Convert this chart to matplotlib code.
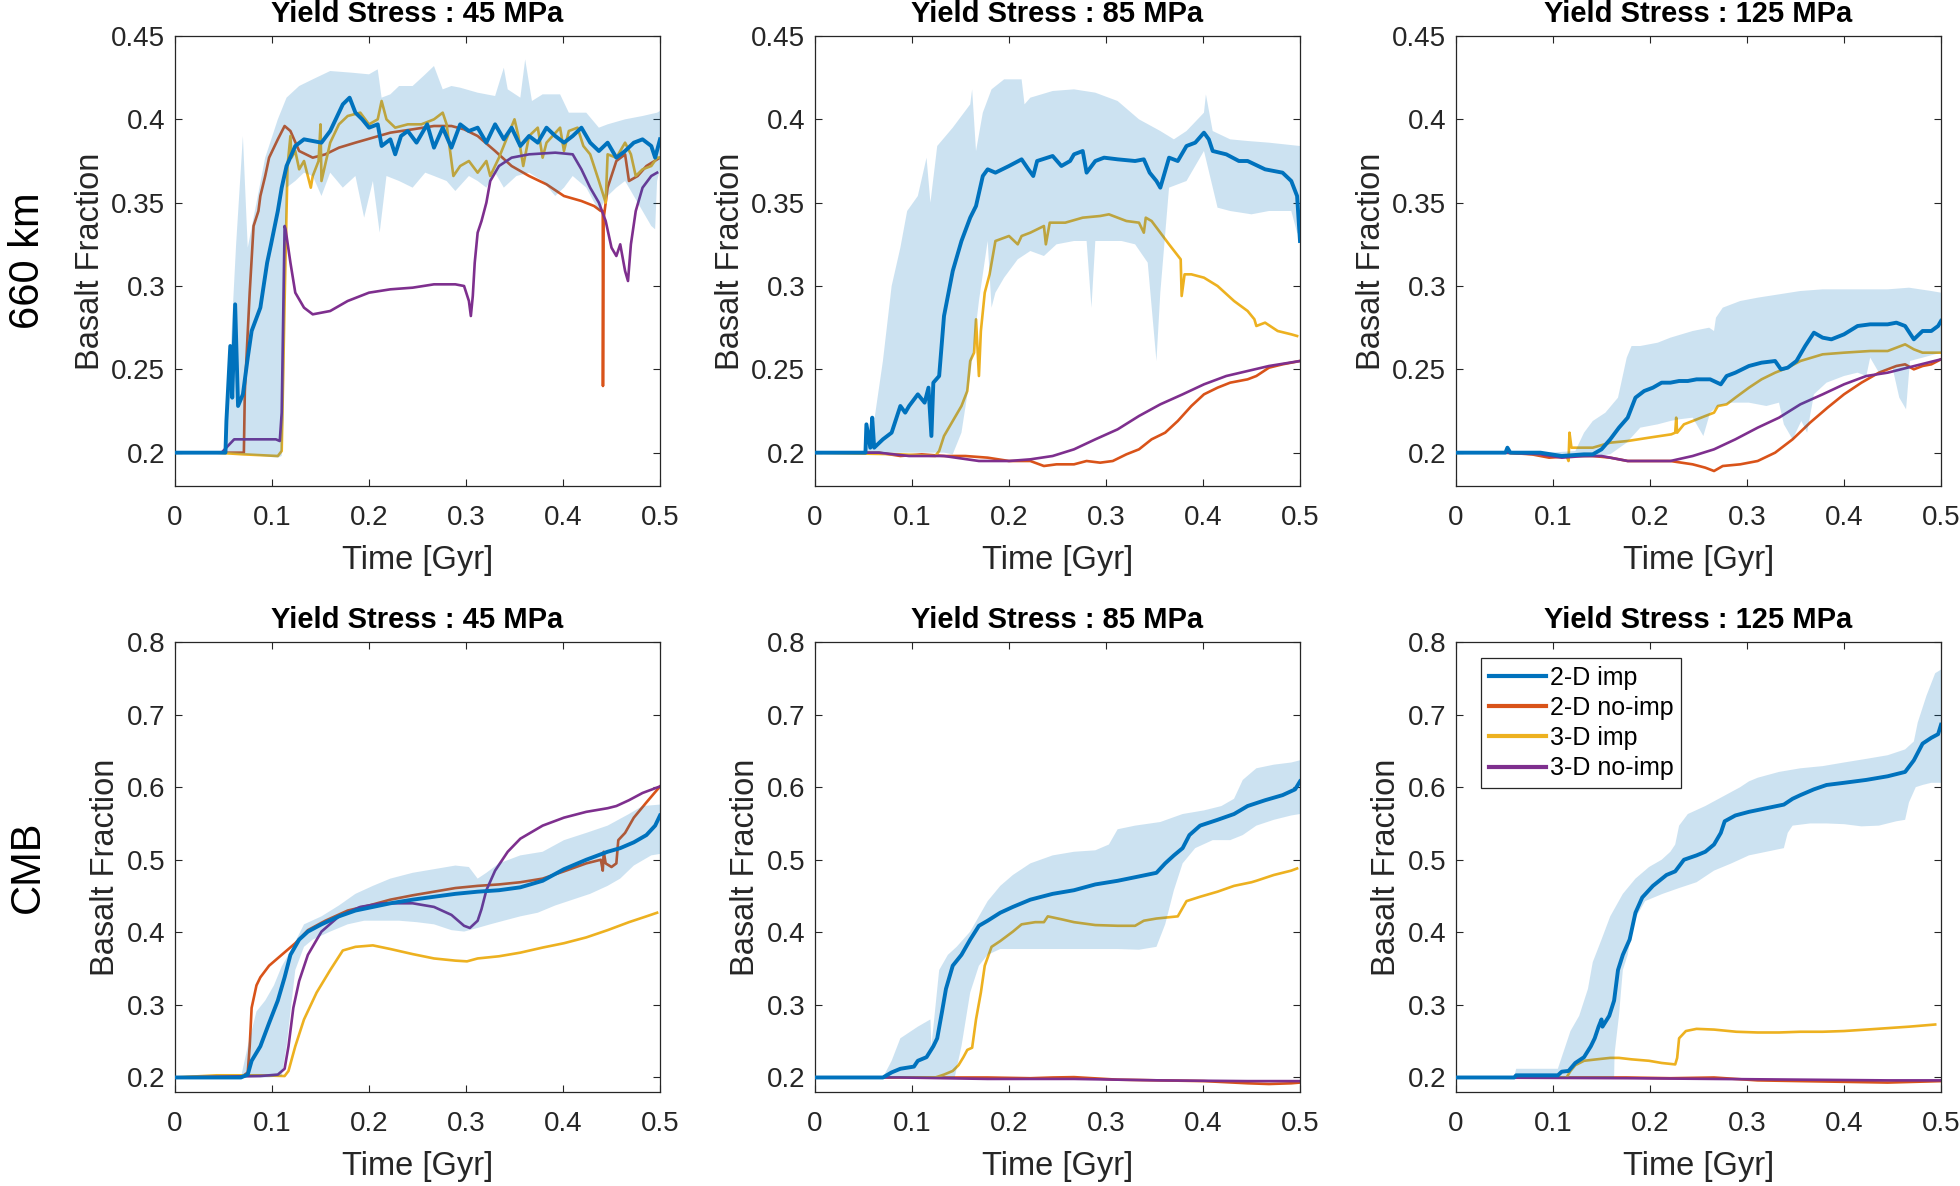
import numpy as np
import matplotlib
matplotlib.use('Agg')
import matplotlib.pyplot as plt
from matplotlib.ticker import FuncFormatter

plt.rcParams['font.family'] = ['Liberation Sans', 'DejaVu Sans']

# ---------------- data: (time [Gyr], basalt fraction) ----------------
# Row 1: 660 km, 45 MPa
A_band_up = [(0.050,0.200),(0.053,0.212),(0.063,0.325),(0.070,0.390),(0.075,0.323),(0.084,0.350),(0.093,0.377),
             (0.106,0.400),(0.115,0.413),(0.128,0.420),(0.142,0.424),(0.160,0.429),(0.182,0.428),(0.200,0.427),
             (0.209,0.430),(0.213,0.413),(0.222,0.415),(0.231,0.420),(0.245,0.420),(0.258,0.427),(0.267,0.432),
             (0.276,0.418),(0.285,0.420),(0.294,0.419),(0.312,0.416),(0.330,0.414),(0.339,0.431),(0.343,0.418),
             (0.356,0.413),(0.361,0.436),(0.368,0.411),(0.379,0.415),(0.397,0.415),(0.406,0.404),(0.424,0.404),
             (0.437,0.395),(0.446,0.397),(0.464,0.400),(0.482,0.402),(0.497,0.404),(0.500,0.405)]
A_band_lo = [(0.050,0.200),(0.088,0.198),(0.106,0.197),(0.110,0.198),(0.112,0.220),(0.115,0.359),(0.124,0.363),
             (0.133,0.368),(0.142,0.366),(0.151,0.354),(0.160,0.368),(0.173,0.359),(0.186,0.366),(0.195,0.341),
             (0.204,0.363),(0.211,0.332),(0.218,0.366),(0.231,0.363),(0.245,0.359),(0.258,0.368),(0.267,0.366),
             (0.280,0.363),(0.289,0.357),(0.303,0.366),(0.312,0.363),(0.321,0.359),(0.330,0.368),(0.339,0.359),
             (0.352,0.366),(0.365,0.368),(0.379,0.363),(0.392,0.354),(0.401,0.359),(0.410,0.366),(0.424,0.359),
             (0.437,0.345),(0.446,0.354),(0.455,0.359),(0.464,0.363),(0.473,0.354),(0.482,0.345),(0.491,0.336),
             (0.495,0.334),(0.497,0.363),(0.500,0.370)]
A_2d_imp = [(0,0.2),(0.052,0.2),(0.053,0.219),(0.057,0.264),(0.059,0.233),(0.062,0.289),(0.065,0.228),(0.070,0.235),
            (0.075,0.257),(0.079,0.273),(0.088,0.287),(0.095,0.314),(0.099,0.325),(0.106,0.345),(0.110,0.359),
            (0.115,0.372),(0.124,0.384),(0.133,0.388),(0.142,0.387),(0.151,0.386),(0.160,0.393),(0.173,0.409),
            (0.180,0.413),(0.186,0.404),(0.193,0.400),(0.200,0.395),(0.209,0.397),(0.213,0.384),(0.222,0.388),
            (0.227,0.379),(0.233,0.390),(0.240,0.393),(0.249,0.386),(0.260,0.397),(0.267,0.383),(0.276,0.395),
            (0.285,0.383),(0.294,0.397),(0.303,0.393),(0.312,0.395),(0.321,0.386),(0.330,0.397),(0.339,0.388),
            (0.347,0.395),(0.356,0.384),(0.365,0.390),(0.374,0.386),(0.383,0.395),(0.392,0.390),(0.401,0.386),
            (0.410,0.390),(0.419,0.395),(0.428,0.386),(0.437,0.381),(0.446,0.386),(0.455,0.377),(0.464,0.381),
            (0.473,0.386),(0.482,0.388),(0.491,0.384),(0.495,0.377),(0.500,0.388)]
A_2d_noimp = [(0,0.2),(0.071,0.2),(0.072,0.237),(0.077,0.296),(0.081,0.336),(0.086,0.345),(0.088,0.354),(0.093,0.366),
              (0.097,0.377),(0.106,0.388),(0.113,0.396),(0.119,0.393),(0.128,0.381),(0.142,0.377),(0.155,0.379),
              (0.169,0.383),(0.186,0.386),(0.204,0.389),(0.222,0.392),(0.245,0.394),(0.267,0.396),(0.285,0.396),
              (0.298,0.394),(0.312,0.390),(0.330,0.381),(0.347,0.372),(0.365,0.366),(0.383,0.361),(0.401,0.354),
              (0.419,0.351),(0.432,0.348),(0.439,0.345),(0.441,0.345),(0.4412,0.240),(0.4418,0.340),(0.446,0.359),
              (0.455,0.375),(0.464,0.379),(0.468,0.363),(0.477,0.366),(0.486,0.372),(0.500,0.377)]
A_3d_imp = [(0,0.2),(0.043,0.2),(0.070,0.199),(0.106,0.198),(0.110,0.201),(0.113,0.291),(0.116,0.372),(0.119,0.390),
            (0.120,0.377),(0.124,0.381),(0.128,0.370),(0.133,0.375),(0.140,0.359),(0.142,0.366),(0.148,0.375),
            (0.150,0.397),(0.151,0.363),(0.160,0.386),(0.169,0.397),(0.178,0.402),(0.191,0.404),(0.200,0.397),
            (0.209,0.400),(0.213,0.411),(0.218,0.400),(0.227,0.395),(0.240,0.397),(0.254,0.397),(0.267,0.400),
            (0.276,0.404),(0.280,0.397),(0.287,0.366),(0.294,0.372),(0.303,0.375),(0.312,0.368),(0.321,0.375),
            (0.325,0.366),(0.334,0.377),(0.343,0.390),(0.350,0.400),(0.354,0.390),(0.359,0.372),(0.365,0.390),
            (0.374,0.395),(0.379,0.377),(0.383,0.386),(0.397,0.395),(0.401,0.381),(0.406,0.393),(0.415,0.395),
            (0.421,0.384),(0.428,0.379),(0.437,0.363),(0.444,0.350),(0.446,0.379),(0.455,0.377),(0.464,0.386),
            (0.470,0.379),(0.475,0.366),(0.482,0.370),(0.491,0.372),(0.497,0.377),(0.500,0.377)]
A_3d_noimp = [(0,0.2),(0.048,0.2),(0.061,0.208),(0.104,0.208),(0.108,0.207),(0.110,0.224),(0.113,0.336),(0.114,0.334),
              (0.119,0.314),(0.124,0.296),(0.133,0.287),(0.142,0.283),(0.160,0.285),(0.178,0.291),(0.200,0.296),
              (0.222,0.298),(0.245,0.299),(0.267,0.301),(0.289,0.301),(0.298,0.300),(0.303,0.291),(0.305,0.282),
              (0.307,0.294),(0.309,0.314),(0.312,0.332),(0.316,0.339),(0.321,0.350),(0.325,0.363),(0.334,0.372),
              (0.347,0.377),(0.365,0.379),(0.392,0.380),(0.410,0.379),(0.419,0.370),(0.428,0.359),(0.437,0.350),
              (0.444,0.339),(0.450,0.323),(0.455,0.318),(0.459,0.325),(0.464,0.309),(0.467,0.303),(0.470,0.325),
              (0.475,0.345),(0.482,0.359),(0.491,0.366),(0.497,0.368)]

# Row 1: 660 km, 85 MPa
B_band_up = [(0.052,0.201),(0.061,0.219),(0.070,0.255),(0.079,0.300),(0.088,0.323),(0.095,0.345),(0.106,0.354),
             (0.115,0.377),(0.119,0.350),(0.126,0.384),(0.142,0.395),(0.160,0.409),(0.162,0.418),(0.166,0.381),
             (0.173,0.404),(0.182,0.418),(0.195,0.424),(0.213,0.424),(0.216,0.409),(0.222,0.413),(0.245,0.417),
             (0.267,0.418),(0.289,0.416),(0.312,0.411),(0.334,0.400),(0.356,0.393),(0.370,0.388),(0.383,0.393),
             (0.401,0.404),(0.403,0.415),(0.410,0.393),(0.428,0.388),(0.446,0.387),(0.468,0.386),(0.500,0.384)]
B_band_lo = [(0.052,0.200),(0.133,0.200),(0.142,0.199),(0.151,0.212),(0.160,0.246),(0.169,0.291),(0.178,0.327),
             (0.182,0.287),(0.186,0.296),(0.195,0.305),(0.209,0.316),(0.222,0.321),(0.236,0.318),(0.249,0.325),
             (0.267,0.327),(0.280,0.327),(0.285,0.287),(0.289,0.327),(0.303,0.327),(0.316,0.327),(0.330,0.325),
             (0.343,0.314),(0.352,0.255),(0.356,0.296),(0.365,0.359),(0.383,0.363),(0.401,0.381),(0.415,0.347),
             (0.428,0.345),(0.450,0.343),(0.468,0.345),(0.491,0.345),(0.497,0.332),(0.500,0.330)]
B_2d_imp = [(0,0.2),(0.052,0.2),(0.053,0.217),(0.057,0.203),(0.059,0.221),(0.061,0.203),(0.070,0.208),(0.079,0.212),
            (0.088,0.228),(0.093,0.224),(0.097,0.228),(0.106,0.235),(0.113,0.230),(0.117,0.239),(0.120,0.210),
            (0.122,0.242),(0.128,0.246),(0.133,0.282),(0.142,0.309),(0.151,0.327),(0.160,0.341),(0.166,0.348),
            (0.173,0.366),(0.178,0.370),(0.186,0.368),(0.200,0.372),(0.213,0.376),(0.220,0.370),(0.225,0.366),
            (0.229,0.375),(0.245,0.378),(0.254,0.372),(0.263,0.375),(0.267,0.379),(0.276,0.381),(0.280,0.368),
            (0.289,0.375),(0.298,0.377),(0.312,0.376),(0.330,0.375),(0.339,0.376),(0.345,0.368),(0.352,0.363),
            (0.356,0.359),(0.365,0.377),(0.374,0.375),(0.383,0.384),(0.392,0.386),(0.401,0.392),(0.406,0.388),
            (0.410,0.381),(0.424,0.379),(0.437,0.375),(0.446,0.375),(0.464,0.370),(0.482,0.368),(0.491,0.363),
            (0.497,0.354),(0.500,0.327)]
B_2d_noimp = [(0,0.2),(0.066,0.2),(0.088,0.198),(0.110,0.199),(0.133,0.198),(0.155,0.198),(0.178,0.197),(0.200,0.195),
              (0.222,0.195),(0.236,0.192),(0.249,0.193),(0.267,0.193),(0.280,0.195),(0.294,0.194),(0.307,0.195),
              (0.321,0.199),(0.334,0.202),(0.347,0.208),(0.361,0.212),(0.374,0.219),(0.388,0.228),(0.401,0.235),
              (0.415,0.239),(0.428,0.242),(0.446,0.244),(0.455,0.246),(0.468,0.251),(0.482,0.253),(0.500,0.255)]
B_3d_imp = [(0,0.2),(0.088,0.199),(0.124,0.198),(0.128,0.201),(0.133,0.210),(0.142,0.219),(0.151,0.228),(0.157,0.237),
            (0.160,0.255),(0.164,0.260),(0.166,0.280),(0.169,0.246),(0.171,0.273),(0.175,0.296),(0.180,0.307),
            (0.186,0.327),(0.200,0.330),(0.209,0.325),(0.213,0.330),(0.222,0.332),(0.236,0.336),(0.238,0.325),
            (0.242,0.338),(0.258,0.338),(0.276,0.341),(0.294,0.342),(0.303,0.343),(0.312,0.341),(0.321,0.339),
            (0.334,0.338),(0.339,0.332),(0.341,0.341),(0.347,0.339),(0.356,0.332),(0.365,0.325),(0.377,0.316),
            (0.378,0.294),(0.381,0.307),(0.388,0.307),(0.401,0.305),(0.415,0.300),(0.432,0.291),(0.446,0.285),
            (0.453,0.280),(0.455,0.276),(0.464,0.278),(0.477,0.273),(0.491,0.271),(0.497,0.270)]
B_3d_noimp = [(0,0.2),(0.066,0.2),(0.097,0.198),(0.133,0.198),(0.169,0.195),(0.200,0.195),(0.222,0.196),(0.245,0.198),
              (0.267,0.202),(0.289,0.208),(0.312,0.214),(0.334,0.222),(0.356,0.229),(0.379,0.235),(0.401,0.241),
              (0.424,0.246),(0.446,0.249),(0.468,0.252),(0.500,0.255)]

# Row 1: 660 km, 125 MPa
C_band_up = [(0.051,0.201),(0.069,0.200),(0.096,0.200),(0.123,0.201),(0.132,0.212),(0.141,0.219),(0.154,0.224),
             (0.167,0.233),(0.176,0.257),(0.181,0.264),(0.190,0.264),(0.208,0.266),(0.221,0.269),(0.244,0.273),
             (0.261,0.275),(0.266,0.273),(0.268,0.281),(0.275,0.287),(0.293,0.291),(0.311,0.293),(0.333,0.295),
             (0.355,0.297),(0.378,0.298),(0.400,0.298),(0.423,0.298),(0.445,0.298),(0.467,0.299),(0.490,0.297),
             (0.500,0.296)]
C_band_lo = [(0.051,0.200),(0.105,0.199),(0.132,0.197),(0.159,0.199),(0.176,0.206),(0.190,0.215),(0.208,0.217),
             (0.221,0.219),(0.230,0.220),(0.244,0.221),(0.255,0.210),(0.262,0.224),(0.270,0.228),(0.284,0.230),
             (0.302,0.230),(0.320,0.228),(0.333,0.230),(0.338,0.217),(0.347,0.208),(0.356,0.219),(0.362,0.212),
             (0.369,0.235),(0.382,0.242),(0.400,0.246),(0.414,0.248),(0.423,0.246),(0.427,0.257),(0.436,0.248),
             (0.450,0.251),(0.457,0.233),(0.464,0.226),(0.468,0.255),(0.481,0.257),(0.500,0.260)]
C_2d_imp = [(0,0.2),(0.051,0.2),(0.053,0.203),(0.056,0.200),(0.087,0.200),(0.109,0.198),(0.132,0.199),(0.141,0.199),
            (0.150,0.202),(0.159,0.208),(0.168,0.215),(0.177,0.221),(0.185,0.233),(0.194,0.237),(0.203,0.239),
            (0.212,0.242),(0.221,0.242),(0.230,0.243),(0.239,0.243),(0.248,0.244),(0.262,0.244),(0.273,0.241),
            (0.279,0.246),(0.288,0.248),(0.302,0.252),(0.315,0.254),(0.329,0.255),(0.335,0.250),(0.342,0.251),
            (0.351,0.255),(0.360,0.264),(0.369,0.272),(0.378,0.269),(0.387,0.268),(0.400,0.271),(0.414,0.276),
            (0.427,0.277),(0.445,0.277),(0.454,0.278),(0.463,0.276),(0.472,0.268),(0.481,0.273),(0.490,0.273),
            (0.497,0.276),(0.500,0.279)]
C_2d_noimp = [(0,0.2),(0.051,0.2),(0.078,0.199),(0.096,0.197),(0.123,0.198),(0.141,0.198),(0.159,0.197),(0.177,0.195),
              (0.199,0.195),(0.221,0.195),(0.244,0.193),(0.257,0.191),(0.266,0.189),(0.275,0.192),(0.293,0.193),
              (0.311,0.195),(0.329,0.200),(0.347,0.208),(0.365,0.218),(0.383,0.227),(0.400,0.235),(0.418,0.242),
              (0.436,0.248),(0.454,0.252),(0.463,0.253),(0.472,0.250),(0.481,0.252),(0.490,0.253),(0.500,0.256)]
C_3d_imp = [(0,0.2),(0.051,0.2),(0.087,0.199),(0.114,0.198),(0.116,0.195),(0.117,0.212),(0.119,0.203),(0.123,0.203),
            (0.141,0.203),(0.159,0.206),(0.177,0.207),(0.199,0.209),(0.222,0.211),(0.226,0.212),(0.227,0.221),
            (0.228,0.212),(0.235,0.217),(0.244,0.219),(0.257,0.222),(0.266,0.224),(0.270,0.228),(0.279,0.229),
            (0.288,0.233),(0.302,0.239),(0.315,0.244),(0.329,0.248),(0.342,0.251),(0.355,0.255),(0.378,0.259),
            (0.400,0.260),(0.427,0.261),(0.445,0.261),(0.454,0.263),(0.463,0.265),(0.472,0.262),(0.481,0.260),
            (0.494,0.260),(0.500,0.260)]
C_3d_noimp = [(0,0.2),(0.051,0.2),(0.087,0.199),(0.109,0.197),(0.132,0.198),(0.150,0.198),(0.177,0.195),(0.199,0.195),
              (0.221,0.195),(0.244,0.198),(0.266,0.202),(0.288,0.208),(0.311,0.215),(0.333,0.221),(0.355,0.229),
              (0.378,0.235),(0.400,0.241),(0.423,0.246),(0.445,0.248),(0.500,0.256)]

# Row 2: CMB, 45 MPa
D_band_up = [(0.068,0.200),(0.075,0.243),(0.084,0.291),(0.093,0.306),(0.102,0.327),(0.110,0.353),(0.119,0.374),
             (0.133,0.411),(0.151,0.422),(0.169,0.437),(0.186,0.453),(0.204,0.464),(0.222,0.474),(0.245,0.482),
             (0.267,0.487),(0.289,0.492),(0.303,0.490),(0.312,0.474),(0.321,0.482),(0.334,0.495),(0.356,0.506),
             (0.379,0.511),(0.401,0.527),(0.424,0.537),(0.446,0.547),(0.468,0.563),(0.482,0.574),(0.500,0.576)]
D_band_lo = [(0.068,0.200),(0.097,0.200),(0.110,0.202),(0.115,0.243),(0.124,0.348),(0.133,0.380),(0.142,0.390),
             (0.160,0.401),(0.178,0.411),(0.195,0.416),(0.213,0.416),(0.231,0.416),(0.249,0.414),(0.267,0.411),
             (0.285,0.403),(0.298,0.401),(0.312,0.406),(0.325,0.411),(0.339,0.416),(0.356,0.422),(0.374,0.427),
             (0.392,0.437),(0.410,0.445),(0.428,0.453),(0.446,0.464),(0.459,0.474),(0.473,0.492),(0.491,0.506),
             (0.500,0.508)]
D_2d_imp = [(0,0.2),(0.068,0.2),(0.075,0.204),(0.079,0.223),(0.088,0.243),(0.097,0.275),(0.106,0.306),(0.113,0.338),
            (0.119,0.369),(0.128,0.390),(0.137,0.401),(0.151,0.411),(0.169,0.422),(0.186,0.430),(0.204,0.435),
            (0.222,0.440),(0.245,0.445),(0.267,0.449),(0.289,0.453),(0.312,0.456),(0.334,0.458),(0.356,0.462),
            (0.379,0.471),(0.401,0.487),(0.424,0.500),(0.446,0.511),(0.459,0.516),(0.473,0.524),(0.486,0.534),
            (0.495,0.547),(0.500,0.561)]
D_2d_noimp = [(0,0.2),(0.070,0.202),(0.075,0.207),(0.077,0.243),(0.079,0.296),(0.084,0.327),(0.088,0.338),(0.097,0.354),
              (0.110,0.369),(0.124,0.385),(0.137,0.403),(0.155,0.416),(0.178,0.430),(0.200,0.437),(0.222,0.445),
              (0.245,0.451),(0.267,0.456),(0.289,0.461),(0.312,0.464),(0.334,0.466),(0.356,0.469),(0.379,0.474),
              (0.401,0.484),(0.424,0.495),(0.439,0.500),(0.441,0.485),(0.442,0.511),(0.444,0.495),(0.450,0.490),
              (0.455,0.495),(0.457,0.527),(0.464,0.537),(0.473,0.558),(0.486,0.579),(0.500,0.601)]
D_3d_imp = [(0,0.2),(0.043,0.203),(0.088,0.203),(0.113,0.202),(0.117,0.209),(0.124,0.243),(0.133,0.280),(0.146,0.317),
            (0.160,0.348),(0.173,0.375),(0.186,0.380),(0.204,0.382),(0.222,0.377),(0.245,0.370),(0.267,0.364),
            (0.289,0.361),(0.301,0.360),(0.312,0.364),(0.334,0.367),(0.356,0.372),(0.379,0.379),(0.401,0.385),
            (0.424,0.393),(0.446,0.403),(0.468,0.414),(0.486,0.422),(0.497,0.427)]
D_3d_noimp = [(0,0.2),(0.088,0.202),(0.106,0.204),(0.113,0.212),(0.117,0.243),(0.122,0.296),(0.128,0.333),(0.137,0.369),
              (0.151,0.401),(0.169,0.422),(0.191,0.435),(0.213,0.440),(0.245,0.440),(0.267,0.435),(0.285,0.424),
              (0.298,0.409),(0.304,0.406),(0.312,0.416),(0.316,0.432),(0.321,0.458),(0.330,0.485),(0.343,0.511),
              (0.356,0.529),(0.379,0.547),(0.401,0.558),(0.424,0.566),(0.446,0.571),(0.455,0.574),(0.468,0.582),
              (0.482,0.592),(0.500,0.601)]

# Row 2: CMB, 85 MPa
E_band_up = [(0.070,0.200),(0.079,0.223),(0.088,0.254),(0.106,0.270),(0.119,0.280),(0.120,0.243),(0.128,0.348),
             (0.137,0.369),(0.146,0.380),(0.160,0.401),(0.169,0.422),(0.178,0.443),(0.191,0.464),(0.204,0.479),
             (0.222,0.495),(0.245,0.506),(0.267,0.511),(0.289,0.513),(0.303,0.521),(0.312,0.542),(0.330,0.547),
             (0.356,0.552),(0.379,0.563),(0.401,0.568),(0.419,0.574),(0.432,0.584),(0.441,0.610),(0.455,0.626),
             (0.473,0.631),(0.491,0.634),(0.500,0.637)]
E_band_lo = [(0.070,0.200),(0.144,0.200),(0.151,0.243),(0.160,0.317),(0.169,0.354),(0.178,0.369),(0.191,0.377),
             (0.204,0.377),(0.222,0.377),(0.267,0.377),(0.289,0.377),(0.312,0.377),(0.334,0.376),(0.352,0.380),
             (0.361,0.411),(0.370,0.458),(0.379,0.495),(0.392,0.516),(0.410,0.527),(0.428,0.527),(0.441,0.534),
             (0.455,0.547),(0.473,0.555),(0.491,0.561),(0.500,0.563)]
E_2d_imp = [(0,0.2),(0.070,0.2),(0.079,0.207),(0.088,0.212),(0.102,0.215),(0.106,0.223),(0.115,0.228),(0.122,0.243),
            (0.126,0.254),(0.131,0.291),(0.135,0.322),(0.142,0.354),(0.151,0.369),(0.160,0.390),(0.169,0.409),
            (0.178,0.416),(0.191,0.427),(0.204,0.435),(0.222,0.445),(0.245,0.453),(0.267,0.458),(0.289,0.466),
            (0.312,0.471),(0.334,0.477),(0.352,0.482),(0.361,0.495),(0.370,0.506),(0.379,0.516),(0.386,0.534),
            (0.397,0.547),(0.415,0.555),(0.432,0.563),(0.446,0.574),(0.464,0.582),(0.482,0.589),(0.495,0.597),
            (0.500,0.608)]
E_2d_noimp = [(0,0.2),(0.178,0.2),(0.222,0.199),(0.245,0.200),(0.267,0.2005),(0.312,0.197),(0.356,0.196),(0.401,0.195),
              (0.446,0.192),(0.468,0.191),(0.491,0.192),(0.500,0.193)]
E_3d_imp = [(0,0.2),(0.124,0.2),(0.133,0.204),(0.142,0.209),(0.148,0.217),(0.153,0.228),(0.157,0.238),(0.162,0.241),
            (0.166,0.280),(0.171,0.317),(0.175,0.354),(0.182,0.380),(0.191,0.388),(0.204,0.401),(0.213,0.411),
            (0.227,0.414),(0.236,0.414),(0.240,0.422),(0.254,0.418),(0.267,0.414),(0.289,0.410),(0.312,0.409),
            (0.330,0.409),(0.339,0.416),(0.352,0.419),(0.374,0.422),(0.383,0.443),(0.397,0.449),(0.415,0.456),
            (0.432,0.464),(0.450,0.469),(0.455,0.471),(0.473,0.479),(0.491,0.485),(0.497,0.488)]
E_3d_noimp = [(0,0.2),(0.088,0.2),(0.178,0.198),(0.267,0.198),(0.356,0.196),(0.446,0.195),(0.500,0.195)]

# Row 2: CMB, 125 MPa
F_band_up = [(0.060,0.200),(0.062,0.212),(0.105,0.212),(0.111,0.236),(0.118,0.264),(0.127,0.285),(0.136,0.322),
             (0.141,0.359),(0.150,0.390),(0.159,0.422),(0.172,0.453),(0.185,0.474),(0.199,0.490),(0.212,0.500),
             (0.221,0.511),(0.226,0.521),(0.230,0.547),(0.239,0.563),(0.257,0.574),(0.275,0.587),(0.293,0.600),
             (0.302,0.608),(0.311,0.613),(0.333,0.621),(0.355,0.626),(0.378,0.629),(0.400,0.634),(0.423,0.639),
             (0.445,0.644),(0.463,0.652),(0.472,0.663),(0.476,0.689),(0.485,0.726),(0.494,0.757),(0.500,0.762)]
F_band_lo = [(0.060,0.200),(0.159,0.200),(0.163,0.200),(0.1635,0.233),(0.168,0.285),(0.172,0.348),(0.177,0.369),
             (0.181,0.401),(0.186,0.422),(0.195,0.443),(0.213,0.453),(0.230,0.461),(0.248,0.469),(0.266,0.485),
             (0.275,0.490),(0.284,0.495),(0.302,0.506),(0.320,0.511),(0.338,0.516),(0.342,0.537),(0.347,0.547),
             (0.365,0.550),(0.382,0.550),(0.400,0.549),(0.418,0.546),(0.436,0.547),(0.454,0.553),(0.463,0.555),
             (0.467,0.579),(0.474,0.600),(0.481,0.603),(0.490,0.606),(0.500,0.606)]
F_2d_imp = [(0,0.2),(0.060,0.2),(0.062,0.203),(0.087,0.203),(0.105,0.203),(0.109,0.208),(0.116,0.209),(0.123,0.220),
            (0.132,0.228),(0.139,0.243),(0.143,0.254),(0.147,0.270),(0.150,0.280),(0.151,0.270),(0.158,0.285),
            (0.163,0.306),(0.167,0.348),(0.172,0.369),(0.179,0.390),(0.185,0.427),(0.192,0.448),(0.203,0.464),
            (0.217,0.479),(0.226,0.484),(0.235,0.500),(0.248,0.506),(0.257,0.511),(0.266,0.521),(0.273,0.537),
            (0.277,0.553),(0.288,0.561),(0.302,0.566),(0.320,0.571),(0.338,0.576),(0.347,0.584),(0.355,0.589),
            (0.369,0.597),(0.382,0.603),(0.400,0.606),(0.423,0.610),(0.445,0.615),(0.463,0.621),(0.472,0.637),
            (0.481,0.660),(0.490,0.668),(0.497,0.673),(0.500,0.686)]
F_2d_noimp = [(0,0.2),(0.176,0.2),(0.221,0.199),(0.266,0.2),(0.311,0.196),(0.355,0.195),(0.400,0.194),(0.445,0.193),
              (0.500,0.195)]
F_3d_imp = [(0,0.2),(0.114,0.2),(0.118,0.209),(0.123,0.217),(0.132,0.223),(0.145,0.225),(0.159,0.227),(0.168,0.227),
            (0.181,0.225),(0.199,0.223),(0.212,0.220),(0.226,0.218),(0.228,0.227),(0.230,0.254),(0.237,0.264),
            (0.248,0.267),(0.266,0.266),(0.289,0.263),(0.311,0.262),(0.333,0.262),(0.355,0.263),(0.378,0.263),
            (0.400,0.264),(0.423,0.266),(0.445,0.268),(0.467,0.270),(0.494,0.273)]
F_3d_noimp = [(0,0.2),(0.176,0.199),(0.266,0.198),(0.355,0.197),(0.445,0.196),(0.500,0.196)]

row_labels = ['660 km', 'CMB']
titles = ['Yield Stress : 45 MPa', 'Yield Stress : 85 MPa', 'Yield Stress : 125 MPa']
series_labels = ['2-D imp', '2-D no-imp', '3-D imp', '3-D no-imp']
x_ticks = [0, 0.1, 0.2, 0.3, 0.4, 0.5]
y_ticks_top = [0.2, 0.25, 0.3, 0.35, 0.4, 0.45]
y_ticks_bottom = [0.2, 0.3, 0.4, 0.5, 0.6, 0.7, 0.8]
ylim_top = (0.18, 0.45)
ylim_bottom = (0.18, 0.8)

panels = [
    [(A_band_up, A_band_lo, A_2d_imp, A_2d_noimp, A_3d_imp, A_3d_noimp),
     (B_band_up, B_band_lo, B_2d_imp, B_2d_noimp, B_3d_imp, B_3d_noimp),
     (C_band_up, C_band_lo, C_2d_imp, C_2d_noimp, C_3d_imp, C_3d_noimp)],
    [(D_band_up, D_band_lo, D_2d_imp, D_2d_noimp, D_3d_imp, D_3d_noimp),
     (E_band_up, E_band_lo, E_2d_imp, E_2d_noimp, E_3d_imp, E_3d_noimp),
     (F_band_up, F_band_lo, F_2d_imp, F_2d_noimp, F_3d_imp, F_3d_noimp)],
]

# ---------------- styling ----------------
C_BLUE, C_ORANGE, C_YELLOW, C_PURPLE = '#0072BD', '#D95319', '#EDB120', '#7E2F8E'
AX_COLOR = '#262626'
W, H = 1960, 1186
col_left = [175, 815, 1456]
ax_w = 485
row_top = [36, 642]
row_h = [450, 450]


def xy(pairs):
    a = np.asarray(pairs, dtype=float)
    return a[:, 0], a[:, 1]


fig = plt.figure(figsize=(W / 100, H / 100), dpi=100)
fmt = FuncFormatter(lambda v, p: f'{round(v, 3):g}')

for r in range(2):
    for c in range(3):
        band_up, band_lo, s1, s2, s3, s4 = panels[r][c]
        ax = fig.add_axes([col_left[c] / W, 1 - (row_top[r] + row_h[r]) / H, ax_w / W, row_h[r] / H])
        handles = []
        # lines drawn beneath the spread band
        for s, col, lab in [(s2, C_ORANGE, series_labels[1]), (s3, C_YELLOW, series_labels[2]),
                            (s4, C_PURPLE, series_labels[3])]:
            t, v = xy(s)
            h, = ax.plot(t, v, color=col, lw=1.9, zorder=2, label=lab)
            handles.append(h)
        tu, vu = xy(band_up)
        tl, vl = xy(band_lo)
        ax.fill(np.concatenate([tu, tl[::-1]]), np.concatenate([vu, vl[::-1]]),
                color=C_BLUE, alpha=0.2, lw=0, zorder=3)
        t, v = xy(s1)
        h1, = ax.plot(t, v, color=C_BLUE, lw=2.8, zorder=4, label=series_labels[0])
        handles.insert(0, h1)

        ax.set_xlim(0, 0.5)
        ax.set_xticks(x_ticks)
        if r == 0:
            ax.set_ylim(*ylim_top)
            ax.set_yticks(y_ticks_top)
        else:
            ax.set_ylim(*ylim_bottom)
            ax.set_yticks(y_ticks_bottom)
        ax.xaxis.set_major_formatter(fmt)
        ax.yaxis.set_major_formatter(fmt)
        ax.tick_params(direction='in', top=True, right=True, length=5, width=0.8,
                       labelsize=20, colors=AX_COLOR)
        ax.tick_params(axis='x', pad=14)
        ax.tick_params(axis='y', pad=7)
        for sp in ax.spines.values():
            sp.set_color(AX_COLOR)
            sp.set_linewidth(0.9)
        ax.set_xlabel('Time [Gyr]', fontsize=23.5, color=AX_COLOR, labelpad=10)
        ax.set_ylabel('Basalt Fraction', fontsize=23.5, color=AX_COLOR, labelpad=4)
        ax.set_title(titles[c], fontsize=21, fontweight='bold', color='black', pad=10)

        if r == 1 and c == 2:
            leg = ax.legend(handles=handles, loc='upper left', bbox_to_anchor=(0.052, 0.964),
                            borderaxespad=0, fontsize=18, handlelength=2.3, handletextpad=0.15,
                            labelspacing=0.25, borderpad=0.3, fancybox=False, framealpha=1,
                            edgecolor=AX_COLOR)
            leg.get_frame().set_linewidth(0.9)
            for lh in leg.get_lines():
                lh.set_linewidth(3.0)

for r in range(2):
    fig.text(28 / W, 1 - (row_top[r] + row_h[r] / 2) / H, row_labels[r], rotation=90, fontsize=30,
             ha='center', va='center', color='black')

fig.savefig('out.png', dpi=100)
